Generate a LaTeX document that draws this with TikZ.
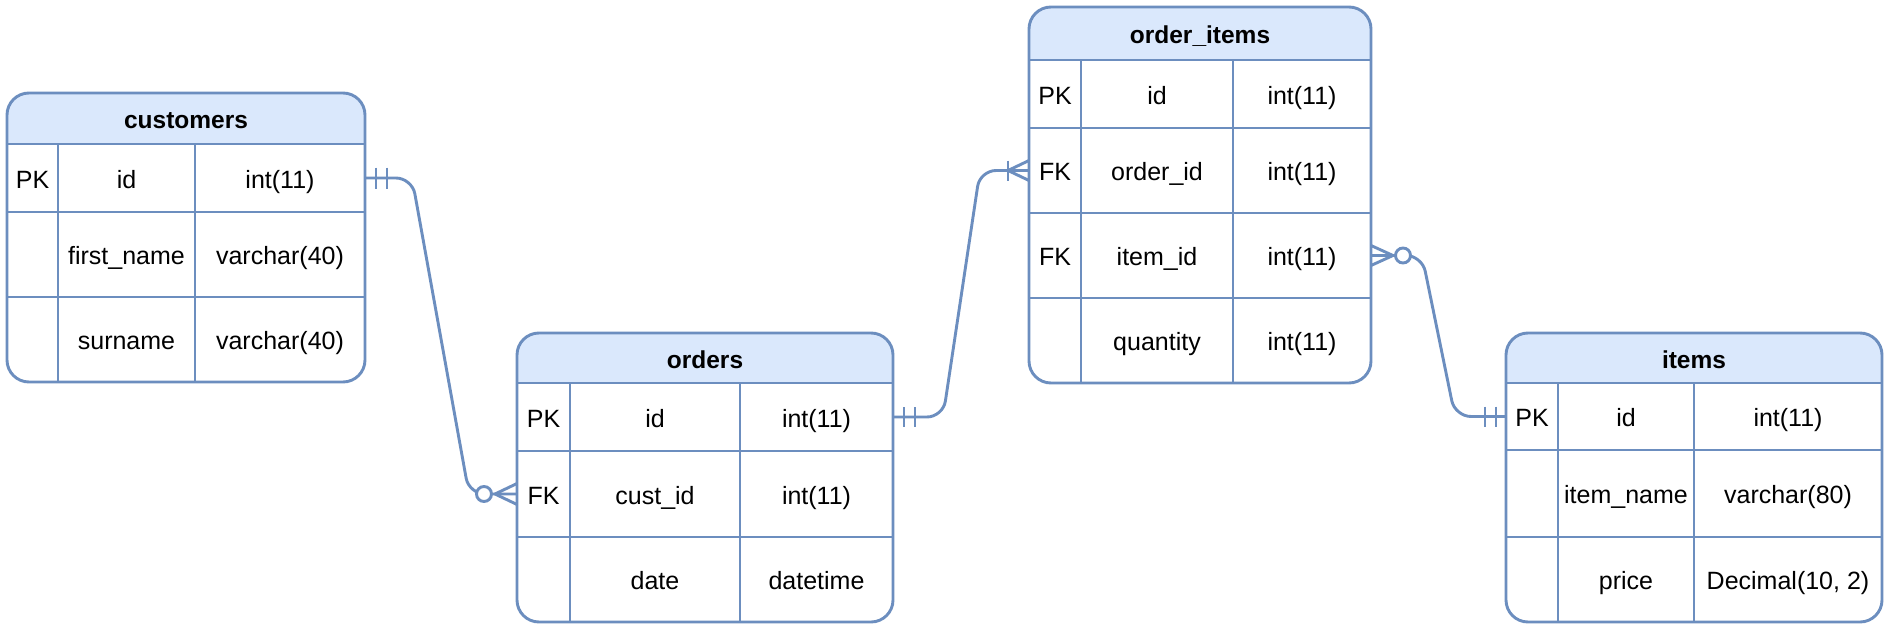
\documentclass[tikz,border=0pt]{standalone}
\usepackage{fontspec}
\setmainfont{Liberation Sans}
\usetikzlibrary{calc}
\definecolor{bc}{HTML}{6C8EBF}
\definecolor{hf}{HTML}{DAE8FC}
\tikzset{
  tbl/.style={draw=bc, line width=2.9pt, rounded corners=22pt, inner sep=0pt, outer sep=0pt},
  erg/.style={draw=bc, line width=2.9pt},
  rowbox/.style={inner sep=0pt, outer sep=0pt},
  cell/.style={font=\fontsize{25}{30}\selectfont, inner sep=0pt, anchor=base, text=black},
  hdrtxt/.style={cell, font=\fontsize{24.5}{30}\selectfont\bfseries},
  conn/.style={draw=bc, line width=2.9pt, rounded corners=16pt, line join=round},
  erline/.style={draw=bc, line width=2.9pt, line join=round},
  ercircle/.style={draw=bc, line width=2.9pt, fill=white},
}
% name, title, L, R, T, H, B, c1, c2
\newcommand\ertable[9]{%
  \begin{scope}
    \clip (#3,#5) rectangle (#4,#6);
    \fill[hf, rounded corners=22pt] (#3,#5) rectangle (#4,#7);
  \end{scope}
  \draw[erg] (#8,#6) -- (#8,#7) (#9,#6) -- (#9,#7);
  \node[tbl, anchor=north west, minimum width={(#4-#3)*1pt}, minimum height={(#7-#5)*1pt}] (#1) at (#3,#5) {};
  \node[hdrtxt] (#1-title) at ({(#3+#4)/2},{(#5+#6)/2+10}) {#2};
}
% name, top, bottom, key, field, type
\newcommand\errow[6]{%
  \draw[erg] (\erL,#2) -- (\erR,#2);
  \node[rowbox, anchor=north west, minimum width={(\erR-\erL)*1pt}, minimum height={(#3-#2)*1pt}] (#1) at (\erL,#2) {};
  \node[cell] (#1-k) at ({(\erL+\erA)/2},{(#2+#3)/2+10}) {#4};
  \node[cell] (#1-f) at ({(\erA+\erB)/2},{(#2+#3)/2+10}) {#5};
  \node[cell] (#1-t) at ({(\erB+\erR)/2},{(#2+#3)/2+10}) {#6};
}
\begin{document}
\begin{tikzpicture}[x=1pt, y=-1pt]
\fill[white] (0,0) rectangle (1888,629);
\useasboundingbox (0,0) rectangle (1888,629);

% customers
\def\erL{7}\def\erR{365}\def\erA{58}\def\erB{195}
\ertable{cust}{customers}{7}{365}{93}{144}{382}{58}{195}
\errow{cust-r1}{144}{212}{PK}{id}{int(11)}
\errow{cust-r2}{212}{297}{}{first\_name}{varchar(40)}
\errow{cust-r3}{297}{382}{}{surname}{varchar(40)}

% orders
\def\erL{517}\def\erR{893}\def\erA{570}\def\erB{740}
\ertable{ord}{orders}{517}{893}{333}{383}{622}{570}{740}
\errow{ord-r1}{383}{451}{PK}{id}{int(11)}
\errow{ord-r2}{451}{537}{FK}{cust\_id}{int(11)}
\errow{ord-r3}{537}{622}{}{date}{datetime}

% order_items
\def\erL{1029}\def\erR{1371}\def\erA{1081}\def\erB{1233}
\ertable{oi}{order\_items}{1029}{1371}{7}{60}{383}{1081}{1233}
\errow{oi-r1}{60}{128}{PK}{id}{int(11)}
\errow{oi-r2}{128}{213}{FK}{order\_id}{int(11)}
\errow{oi-r3}{213}{298}{FK}{item\_id}{int(11)}
\errow{oi-r4}{298}{383}{}{quantity}{int(11)}

% items
\def\erL{1506}\def\erR{1882}\def\erA{1558}\def\erB{1694}
\ertable{it}{items}{1506}{1882}{333}{383}{622}{1558}{1694}
\errow{it-r1}{383}{450}{PK}{id}{int(11)}
\errow{it-r2}{450}{537}{}{item\_name}{varchar(80)}
\errow{it-r3}{537}{622}{}{price}{Decimal(10, 2)}

% connectors
\draw[conn] (cust-r1.east) -- ++(47,0) -- ($(ord-r2.west)+(-48,0)$) -- (ord-r2.west);
\draw[conn] (ord-r1.east) -- ++(50,0) -- ($(oi-r2.west)+(-49,0)$) -- (oi-r2.west);
\draw[conn] (oi-r3.east) -- ++(51,0) -- ($(it-r1.west)+(-51,0)$) -- (it-r1.west);

% customers end: mandatory one
\draw[erline] ($(cust-r1.east)+(11,-10.5)$) -- ($(cust-r1.east)+(11,10.5)$)
              ($(cust-r1.east)+(22,-10.5)$) -- ($(cust-r1.east)+(22,10.5)$);
% orders cust_id end: zero or many
\draw[erline] ($(ord-r2.west)+(0,-10.5)$) -- ($(ord-r2.west)+(-22,0)$) -- ($(ord-r2.west)+(0,10.5)$);
\draw[ercircle] ($(ord-r2.west)+(-33,0)$) circle[radius=7.5pt];
% orders id end: mandatory one
\draw[erline] ($(ord-r1.east)+(11,-10)$) -- ($(ord-r1.east)+(11,10)$)
              ($(ord-r1.east)+(22,-10)$) -- ($(ord-r1.east)+(22,10)$);
% order_items order_id end: one or many
\draw[erline] ($(oi-r2.west)+(0,-10)$) -- ($(oi-r2.west)+(-21,0)$) -- ($(oi-r2.west)+(0,10)$);
\draw[erline] ($(oi-r2.west)+(-21,-10)$) -- ($(oi-r2.west)+(-21,10)$);
% order_items item_id end: zero or many
\draw[erline] ($(oi-r3.east)+(0,-10)$) -- ($(oi-r3.east)+(22,0)$) -- ($(oi-r3.east)+(0,10)$);
\draw[ercircle] ($(oi-r3.east)+(32,0)$) circle[radius=7.5pt];
% items id end: mandatory one
\draw[erline] ($(it-r1.west)+(-10,-10)$) -- ($(it-r1.west)+(-10,10)$)
              ($(it-r1.west)+(-21,-10)$) -- ($(it-r1.west)+(-21,10)$);
\end{tikzpicture}
\end{document}
